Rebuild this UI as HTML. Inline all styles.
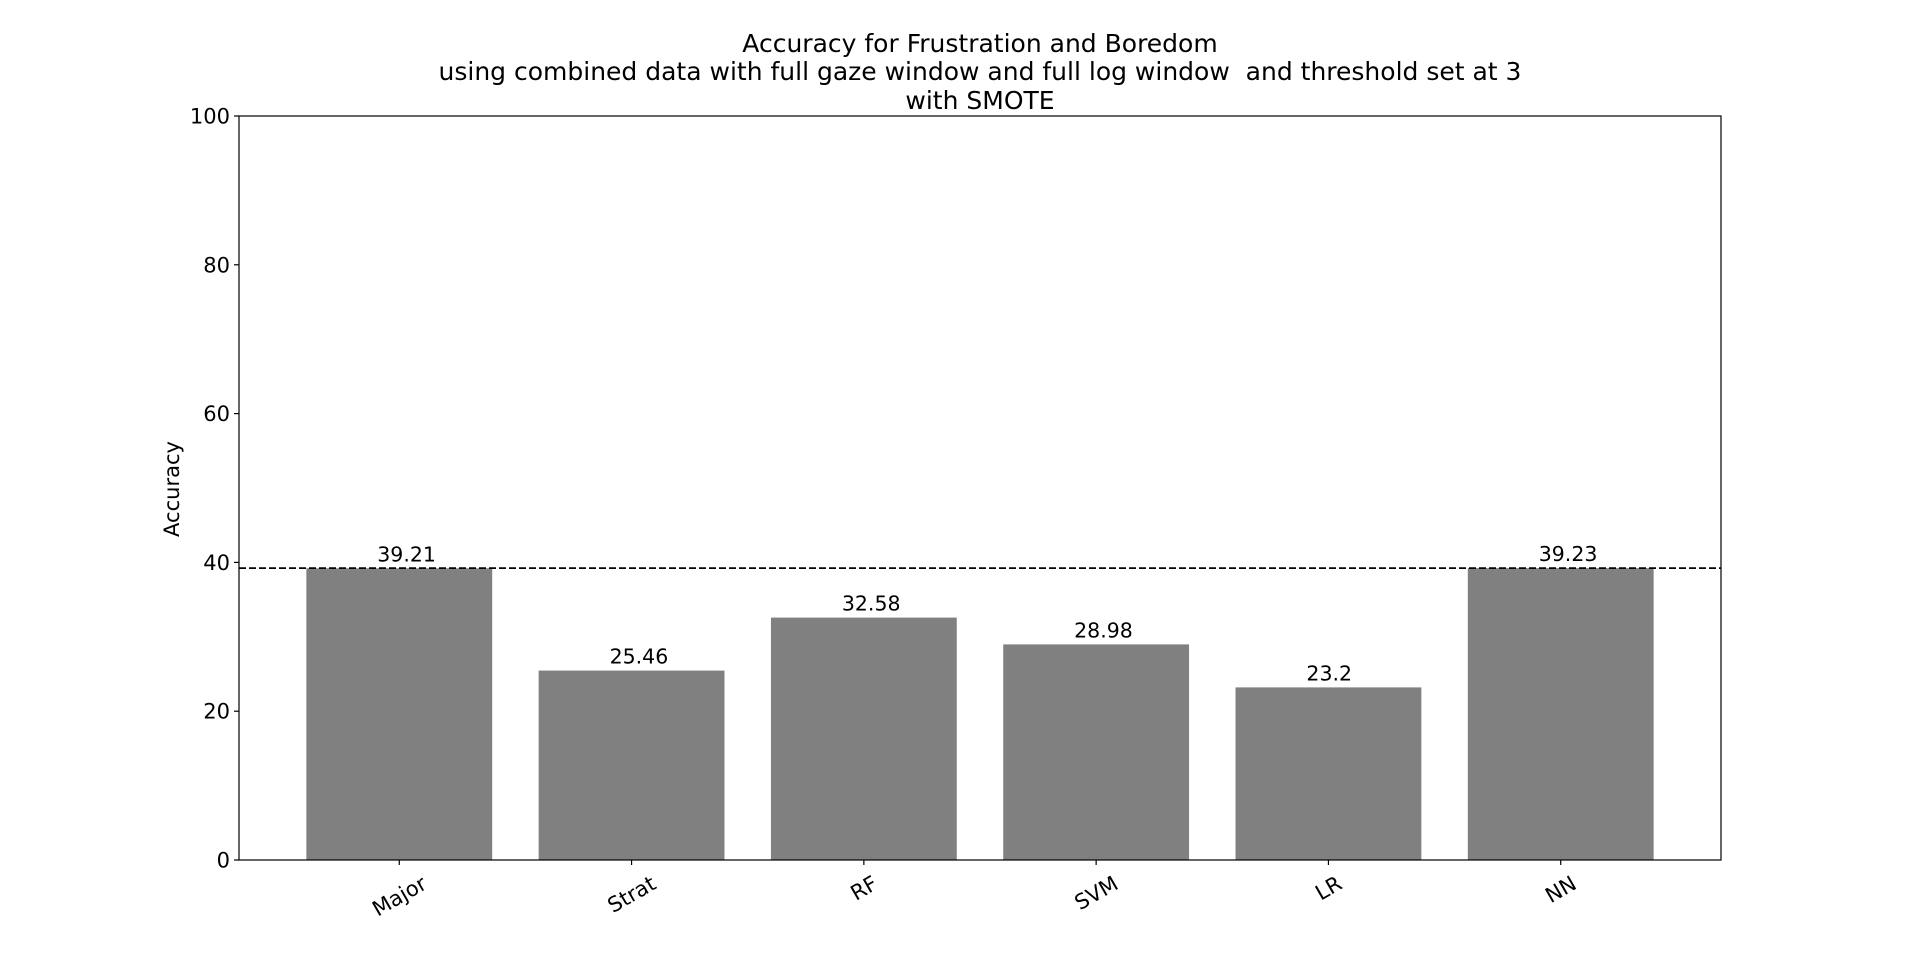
<!DOCTYPE html>
<html><head><meta charset="utf-8"><style>body{margin:0;background:#fff}svg{display:block;font-family:"DejaVu Sans","Liberation Sans",sans-serif}</style></head>
<body>
<svg width="1912" height="966" id="c">
<g id="title" font-size="25" text-anchor="middle">
<text x="980" y="52">Accuracy for Frustration and Boredom</text>
<text x="980" y="80">using combined data with full gaze window and full log window &#160;and threshold set at 3</text>
<text x="980" y="109">with SMOTE</text>
</g>
<text font-size="21" text-anchor="middle" transform="translate(179,489) rotate(-90)">Accuracy</text>
</svg>
<script>
const categories=["Major","Strat","RF","SVM","LR","NN"];
const values=[39.21,25.46,32.58,28.98,23.2,39.23];
const valueLabels=["39.21","25.46","32.58","28.98","23.2","39.23"];
const yTicks=[0,20,40,60,80,100];
const refLine=39.23;
const NS="http://www.w3.org/2000/svg";
const svg=document.getElementById('c');
const L=239,R=1721,T=116,B=860;
const x0=-0.69,x1=categories.length-1+0.69;
const xs=v=>L+(v-x0)/(x1-x0)*(R-L);
const ys=v=>B-(v/100)*(B-T);
function mk(t,a){const e=document.createElementNS(NS,t);for(const k in a)e.setAttribute(k,a[k]);svg.appendChild(e);return e;}
categories.forEach((c,i)=>{
 const r=mk('rect',{x:xs(i-0.4),y:ys(values[i]),width:xs(i+0.4)-xs(i-0.4),height:B-ys(values[i]),fill:'#808080'});
 
 
 const lt=mk('text',{x:xs(i)-22,y:ys(values[i])-7,'font-size':20.5,'text-anchor':'start'});
 lt.textContent=valueLabels[i];
 
 
 const tk=mk('line',{x1:xs(i),x2:xs(i),y1:B,y2:B+5,stroke:'#000','stroke-width':1.2});
 
 
 const tl=mk('text',{'font-size':21,'text-anchor':'middle',dy:'0.35em'});
 tl.textContent=c;
 
 
 const w=tl.getComputedTextLength();
 const cy=B+11+(w*0.5+24*0.866)/2;
 tl.setAttribute('transform',`translate(${xs(i)},${cy}) rotate(-30)`);
});
yTicks.forEach(v=>{
 const tk=mk('line',{x1:L-5,x2:L,y1:ys(v),y2:ys(v),stroke:'#000','stroke-width':1.2});
 
 
 const tl=mk('text',{x:L-9,y:ys(v)+7.5,'font-size':21,'text-anchor':'end'});
 tl.textContent=v;
 
 
});
const dl=mk('line',{x1:L,x2:R,y1:ys(refLine),y2:ys(refLine),stroke:'#000','stroke-width':1.8,'stroke-dasharray':'7,3'});


const fr=mk('rect',{x:L,y:T,width:R-L,height:B-T,fill:'none',stroke:'#000','stroke-width':1.2});


</script>
</body></html>
